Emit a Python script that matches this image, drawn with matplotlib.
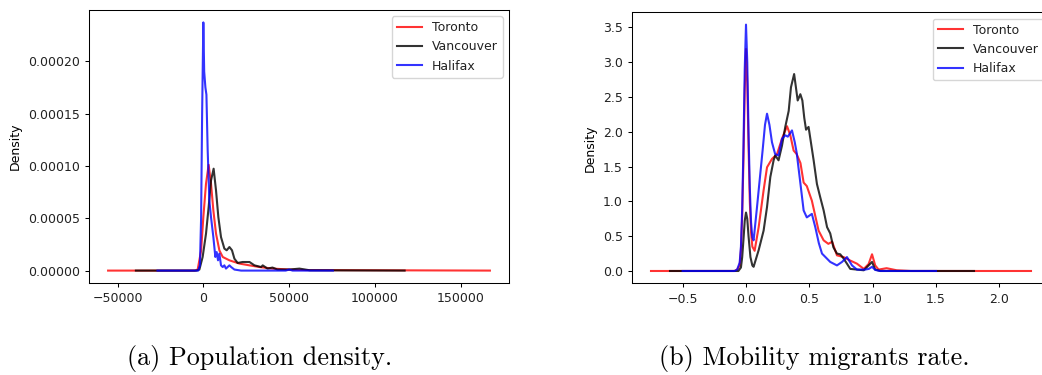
import matplotlib
matplotlib.use("Agg")
import matplotlib.pyplot as plt

# ---------------- data: (a) population density ----------------
tor_pop_x = [-55500, -5000, -3300, -1300, 0, 1560, 3100, 4480, 5840, 7390, 9340, 11300,
             15200, 21000, 26900, 32700, 40500, 50200, 60000, 167000]
tor_pop_y = [0, 0, 0.000001, 0.000019, 0.000051, 0.000083, 0.000101, 0.000083, 0.0000575,
             0.0000353, 0.0000194, 0.000013, 0.0000098, 0.0000067, 0.000005, 0.0000034,
             0.0000019, 0.000001, 0.0000005, 0]

van_pop_x = [-39300, -4000, -2300, -400, 1560, 3100, 4480, 6000, 7390, 8750, 10300, 12260,
             13600, 15200, 16700, 18100, 20000, 22900, 26900, 29800, 33700, 34600, 37400,
             40300, 43200, 50200, 56000, 62000, 117300]
van_pop_y = [0, 0, 0.000001, 0.000013, 0.0000353, 0.0000607, 0.0000861, 0.0000973, 0.0000766,
             0.0000511, 0.000032, 0.000021, 0.0000194, 0.0000225, 0.0000194, 0.0000114,
             0.0000073, 0.0000082, 0.0000082, 0.000005, 0.0000034, 0.000005, 0.0000019,
             0.0000029, 0.000001, 0.000001, 0.0000019, 0.0000003, 0]

hal_pop_x = [-26700, -3000, -2000, -1300, -700, 0, 500, 1200, 1800, 2530, 3500, 4480, 5840,
             7000, 7780, 8560, 9340, 10300, 11300, 12260, 13200, 15200, 16200, 18100, 22000,
             48000, 50000, 52000, 75500]
hal_pop_y = [0, 0, 0.000005, 0.00005, 0.00015, 0.000237, 0.00019, 0.000175, 0.000168,
             0.000115, 0.000067, 0.000051, 0.000032, 0.000013, 0.0000177, 0.0000098,
             0.0000162, 0.000005, 0.0000034, 0.000005, 0.0000019, 0.000005, 0.0000034,
             0.000001, 0, 0, 0.000001, 0, 0]

# ---------------- data: (b) mobility migrants rate ----------------
tor_mob_x = [-0.75, -0.09, -0.07, -0.05, -0.04, -0.03, -0.02, -0.01, 0.0, 0.01, 0.02, 0.03,
             0.04, 0.05, 0.068, 0.1, 0.139, 0.166, 0.205, 0.245, 0.284, 0.31, 0.324, 0.35,
             0.376, 0.40, 0.43, 0.455, 0.48, 0.52, 0.573, 0.613, 0.65, 0.68, 0.718, 0.77,
             0.823, 0.876, 0.93, 0.968, 0.995, 1.02, 1.047, 1.11, 1.19, 1.3, 2.25]
tor_mob_y = [0, 0, 0.02, 0.08, 0.3, 0.8, 1.6, 2.6, 3.19, 2.7, 1.8, 1.0,
             0.55, 0.35, 0.29, 0.63, 1.16, 1.49, 1.61, 1.68, 1.9, 2.02, 2.08, 1.95,
             1.73, 1.68, 1.55, 1.27, 1.22, 1.01, 0.58, 0.44, 0.39, 0.42, 0.225, 0.2,
             0.15, 0.105, 0.03, 0.1, 0.24, 0.08, 0.02, 0.04, 0.01, 0, 0]

van_mob_x = [-0.6, -0.06, -0.04, -0.03, -0.02, -0.01, 0.0, 0.01, 0.02, 0.035, 0.05, 0.06,
             0.1, 0.139, 0.166, 0.192, 0.218, 0.231, 0.257, 0.284, 0.31, 0.337, 0.355, 0.38,
             0.408, 0.429, 0.445, 0.46, 0.474, 0.494, 0.534, 0.56, 0.586, 0.613, 0.64, 0.665,
             0.69, 0.718, 0.744, 0.77, 0.797, 0.823, 0.93, 0.995, 1.02, 1.06, 1.8]
van_mob_y = [0, 0, 0.05, 0.2, 0.45, 0.72, 0.84, 0.75, 0.5, 0.2, 0.08, 0.06,
             0.3, 0.58, 0.92, 1.35, 1.59, 1.66, 1.59, 1.8, 2.07, 2.3, 2.64, 2.83,
             2.45, 2.54, 2.45, 2.2, 2.03, 2.07, 1.59, 1.25, 1.06, 0.87, 0.63, 0.54,
             0.34, 0.25, 0.24, 0.18, 0.105, 0.03, 0.01, 0.13, 0.02, 0, 0]

hal_mob_x = [-0.5, -0.09, -0.07, -0.05, -0.04, -0.03, -0.02, -0.01, 0.0, 0.01, 0.02, 0.03,
             0.04, 0.05, 0.06, 0.087, 0.113, 0.131, 0.15, 0.166, 0.185, 0.205, 0.23, 0.257,
             0.284, 0.31, 0.33, 0.363, 0.385, 0.40, 0.43, 0.455, 0.48, 0.52, 0.547, 0.575,
             0.6, 0.665, 0.718, 0.758, 0.797, 0.837, 0.876, 0.94, 0.97, 0.995, 1.02, 1.06, 1.5]
hal_mob_y = [0, 0, 0.02, 0.12, 0.35, 0.9, 1.8, 2.9, 3.54, 3.0, 2.0, 1.2,
             0.7, 0.48, 0.44, 0.92, 1.4, 1.73, 2.1, 2.26, 2.1, 1.85, 1.68, 1.66,
             1.9, 1.95, 1.93, 2.02, 1.85, 1.7, 1.25, 0.87, 0.77, 0.82, 0.63, 0.4,
             0.25, 0.13, 0.08, 0.13, 0.2, 0.08, 0.02, 0.02, 0.03, 0.06, 0.015, 0, 0]

series_names = ["Toronto", "Vancouver", "Halifax"]
series_colors = ["red", "black", "blue"]
captions = ["(a) Population density.", "(b) Mobility migrants rate."]

plt.rcParams["font.family"] = ["DejaVu Sans"]
plt.rcParams["font.size"] = 9
plt.rcParams["axes.linewidth"] = 0.75
plt.rcParams["xtick.major.size"] = 3.2
plt.rcParams["ytick.major.size"] = 3.2
plt.rcParams["xtick.major.width"] = 0.75
plt.rcParams["ytick.major.width"] = 0.75
plt.rcParams["text.color"] = "#222222"
plt.rcParams["xtick.labelcolor"] = "#222222"
plt.rcParams["ytick.labelcolor"] = "#222222"

fig = plt.figure(figsize=(10.42, 3.75), dpi=100)
ax1 = fig.add_axes([89 / 1042, (375 - 283) / 375, 420 / 1042, 273 / 375])
ax2 = fig.add_axes([632 / 1042, (375 - 283.3) / 375, 418 / 1042, 271 / 375])

pop = [(tor_pop_x, tor_pop_y), (van_pop_x, van_pop_y), (hal_pop_x, hal_pop_y)]
mob = [(tor_mob_x, tor_mob_y), (van_mob_x, van_mob_y), (hal_mob_x, hal_mob_y)]

for ax, data in [(ax1, pop), (ax2, mob)]:
    for (xs, ys), name, col in zip(data, series_names, series_colors):
        ax.plot(xs, ys, color=col, alpha=0.8, lw=1.5, label=name)
    ax.set_ylabel("Density")
    ax.legend(loc="upper right", fontsize=9)

fig.text(260 / 1042, 1 - 358 / 375, captions[0], family="cmr10", fontsize=18.8,
         color="black", ha="center", va="center")
fig.text(814 / 1042, 1 - 358 / 375, captions[1], family="cmr10", fontsize=18.8,
         color="black", ha="center", va="center")

fig.savefig("out.png", dpi=100)
